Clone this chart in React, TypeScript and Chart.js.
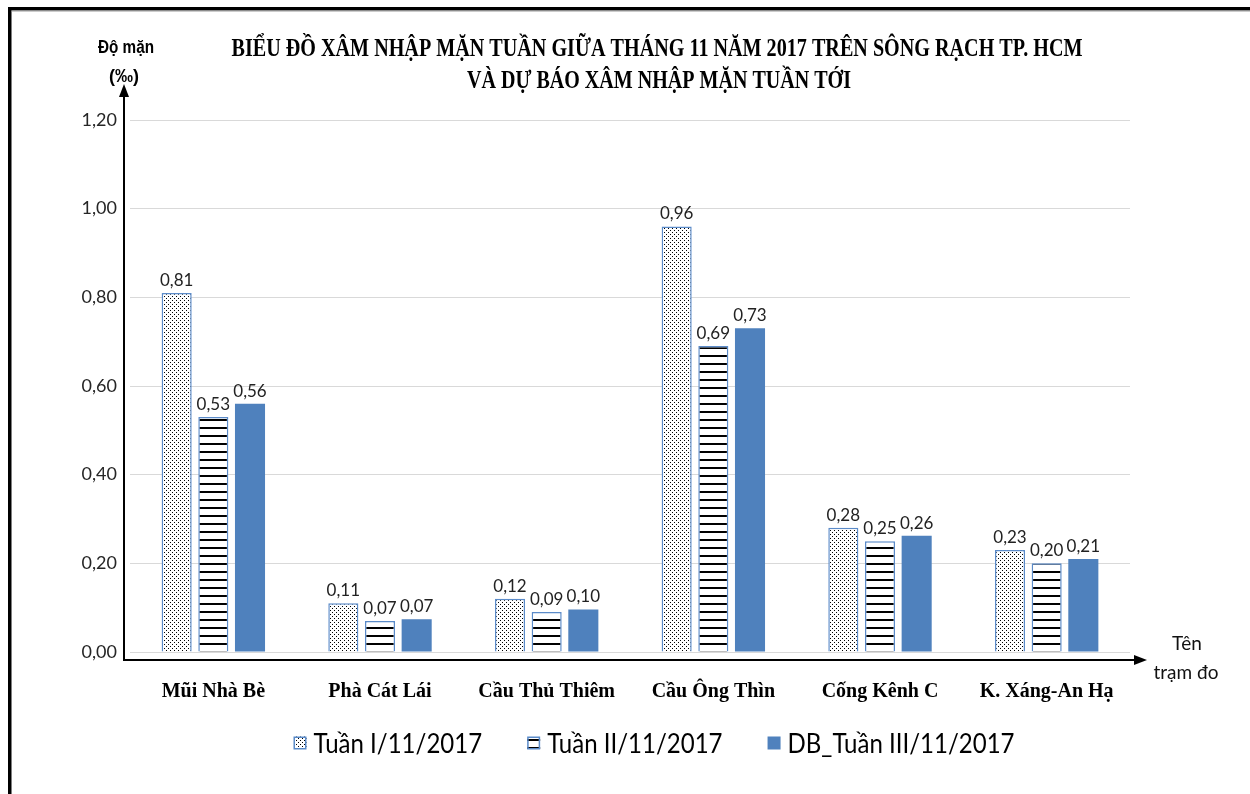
import React, { useEffect, useRef } from "react";
import { Chart, registerables } from "chart.js";

Chart.register(...registerables);

const categories = ["Mũi Nhà Bè", "Phà Cát Lái", "Cầu Thủ Thiêm", "Cầu Ông Thìn", "Cống Kênh C", "K. Xáng-An Hạ"];
const seriesNames = ["Tuần I/11/2017", "Tuần II/11/2017", "DB_Tuần III/11/2017"];
const tuan1 = [0.81, 0.11, 0.12, 0.96, 0.28, 0.23];
const tuan2 = [0.53, 0.07, 0.09, 0.69, 0.25, 0.2];
const dbTuan3 = [0.56, 0.074, 0.096, 0.73, 0.262, 0.21];
const titleLines = [
  "BIỂU ĐỒ XÂM NHẬP MẶN TUẦN GIỮA THÁNG 11 NĂM 2017 TRÊN SÔNG RẠCH TP. HCM",
  "VÀ DỰ BÁO XÂM NHẬP MẶN TUẦN TỚI",
];
const yAxisTitle = ["Độ mặn", "(‰)"];
const xAxisTitle = ["Tên", "trạm đo"];

const BLUE = "#4F81BD";
const EDGE = "#5B8BC9";

function fmt(v: number) {
  return Number(v).toFixed(2).replace(".", ",");
}

function makeDotPattern(ctx: CanvasRenderingContext2D) {
  const c = document.createElement("canvas");
  c.width = 4;
  c.height = 4;
  const g = c.getContext("2d")!;
  g.fillStyle = "#ffffff";
  g.fillRect(0, 0, 4, 4);
  g.fillStyle = "#000000";
  g.fillRect(0, 0, 1, 1);
  g.fillRect(2, 2, 1, 1);
  return ctx.createPattern(c, "repeat")!;
}

function makeStripePattern(ctx: CanvasRenderingContext2D) {
  const c = document.createElement("canvas");
  c.width = 4;
  c.height = 8;
  const g = c.getContext("2d")!;
  g.fillStyle = "#ffffff";
  g.fillRect(0, 0, 4, 8);
  g.fillStyle = "#000000";
  g.fillRect(0, 3, 4, 2);
  return ctx.createPattern(c, "repeat")!;
}

export default function App() {
  const ref = useRef<HTMLCanvasElement>(null);

  useEffect(() => {
    const canvas = ref.current!;
    const ctx0 = canvas.getContext("2d")!;
    const dots = makeDotPattern(ctx0);
    const stripes = makeStripePattern(ctx0);
    const fills: (string | CanvasPattern)[] = [dots, stripes, BLUE];

    const decor = {
      id: "decor",
      beforeDraw(chart: any) {
        const ctx = chart.ctx as CanvasRenderingContext2D;
        ctx.save();
        ctx.fillStyle = "#ffffff";
        ctx.fillRect(0, 0, chart.width, chart.height);
        ctx.fillStyle = "#000000";
        ctx.fillRect(8, 7, chart.width - 8, 3.5);
        ctx.fillRect(8, 7, 3.5, chart.height - 7);
        ctx.fillStyle = "#9a9a9a";
        ctx.fillRect(11.5, 10.5, chart.width - 11.5, 1);
        ctx.restore();
      },
      afterDraw(chart: any) {
        const ctx = chart.ctx as CanvasRenderingContext2D;
        const area = chart.chartArea;
        ctx.save();
        // title
        ctx.fillStyle = "#000000";
        ctx.textAlign = "center";
        ctx.textBaseline = "middle";
        ctx.font = 'bold 26px "Liberation Serif"';
        ctx.fillText(titleLines[0], 657, 49, 851);
        ctx.fillText(titleLines[1], 659, 81, 384);

        // axis lines
        const axX = area.left - 6;
        const axY = area.bottom + 8;
        ctx.strokeStyle = "#000000";
        ctx.lineWidth = 2;
        ctx.beginPath();
        ctx.moveTo(axX, axY);
        ctx.lineTo(axX, 95);
        ctx.moveTo(axX - 1, axY);
        ctx.lineTo(area.right + 6, axY);
        ctx.stroke();
        ctx.fillStyle = "#000000";
        ctx.beginPath();
        ctx.moveTo(axX, 84);
        ctx.lineTo(axX - 5, 97);
        ctx.lineTo(axX + 5, 97);
        ctx.closePath();
        ctx.fill();
        ctx.beginPath();
        ctx.moveTo(area.right + 17, axY);
        ctx.lineTo(area.right + 4, axY - 5);
        ctx.lineTo(area.right + 4, axY + 5);
        ctx.closePath();
        ctx.fill();

        // y axis title
        ctx.font = 'bold 18px "Liberation Sans"';
        ctx.fillText(yAxisTitle[0], 126, 48, 56);
        ctx.fillText(yAxisTitle[1], 124, 77, 30);

        // x axis title
        ctx.font = '19px Lato';
        ctx.fillStyle = "#111111";
        ctx.fillText(xAxisTitle[0], 1187, 644);
        ctx.fillText(xAxisTitle[1], 1186, 673);

        // data labels
        ctx.font = '17px Lato';
        ctx.fillStyle = "#222222";
        ctx.textBaseline = "bottom";
        chart.data.datasets.forEach((ds: any, i: number) => {
          const meta = chart.getDatasetMeta(i);
          meta.data.forEach((el: any, j: number) => {
            ctx.fillText(fmt(ds.data[j]), el.x, el.y - 4);
          });
        });

        // legend
        ctx.font = '27px Lato';
        ctx.textBaseline = "middle";
        ctx.textAlign = "left";
        const sw = 13;
        const gapBox = 7;
        const gapItem = 45;
        const squeeze = 0.89;
        const tw = seriesNames.map((n) => ctx.measureText(n).width * squeeze);
        const widths = tw.map((w) => sw + gapBox + w);
        const total = widths.reduce((a, b) => a + b, 0) + gapItem * (widths.length - 1);
        let x = 654 - total / 2;
        const ly = 743;
        seriesNames.forEach((n, i) => {
          ctx.fillStyle = fills[i] as any;
          ctx.fillRect(x, ly - sw / 2, sw, sw);
          if (i < 2) {
            ctx.strokeStyle = EDGE;
            ctx.lineWidth = 1.5;
            ctx.strokeRect(x + 0.75, ly - sw / 2 + 0.75, sw - 1.5, sw - 1.5);
          }
          ctx.fillStyle = "#000000";
          ctx.fillText(n, x + sw + gapBox, ly + 1, tw[i]);
          x += widths[i] + gapItem;
        });
        ctx.restore();
      },
    };

    const chart = new Chart(canvas, {
      type: "bar",
      data: {
        labels: categories,
        datasets: [tuan1, tuan2, dbTuan3].map((d, i) => ({
          label: seriesNames[i],
          data: d,
          backgroundColor: fills[i] as any,
          borderColor: i < 2 ? EDGE : BLUE,
          borderWidth: i < 2 ? 1.5 : 0,
          barPercentage: 0.82,
          categoryPercentage: 0.66,
        })),
      },
      options: {
        responsive: false,
        animation: false,
        layout: { padding: { left: 0, right: 120, top: 120, bottom: 92 } },
        plugins: {
          legend: { display: false },
          title: { display: false },
          tooltip: { enabled: false },
        },
        scales: {
          x: {
            grid: { display: false },
            border: { display: false },
            ticks: {
              font: { family: "Liberation Serif", weight: "bold", size: 20 },
              color: "#000000",
              padding: 20,
              maxRotation: 0,
            },
            afterFit: (s: any) => {
              s.height = 50;
            },
          },
          y: {
            min: 0,
            max: 1.2,
            grid: { color: "#d9d9d9", drawTicks: false },
            border: { display: false },
            ticks: {
              stepSize: 0.2,
              padding: 13,
              color: "#262626",
              font: { family: "Lato", size: 18 },
              callback: (v: any) => fmt(Number(v)),
            },
            afterFit: (s: any) => {
              s.width = 130;
            },
          },
        },
      },
      plugins: [decor],
    });
    return () => chart.destroy();
  }, []);

  return (
    <div style={{ position: "fixed", left: 0, top: 0, width: 1250, height: 794 }}>
      <canvas ref={ref} width={1250} height={794} />
    </div>
  );
}
